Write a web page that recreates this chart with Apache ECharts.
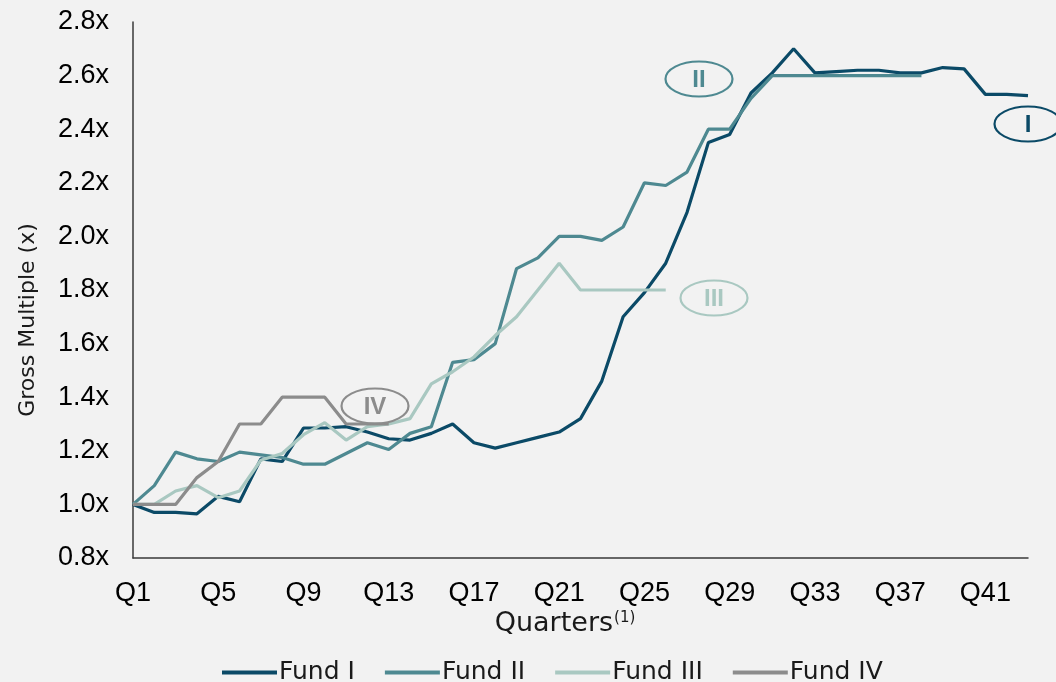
<!DOCTYPE html>
<html>
<head>
<meta charset="utf-8">
<script src="https://cdn.jsdelivr.net/npm/echarts@6/dist/echarts.min.js"></script>
<style>
html,body{margin:0;padding:0;background:#f2f2f2;overflow:hidden;}
#chart{width:1056px;height:682px;}
</style>
</head>
<body>
<div id="chart"></div>
<script>
const quarters = ['Q1','Q2','Q3','Q4','Q5','Q6','Q7','Q8','Q9','Q10','Q11','Q12','Q13','Q14','Q15','Q16','Q17','Q18','Q19','Q20','Q21','Q22','Q23','Q24','Q25','Q26','Q27','Q28','Q29','Q30','Q31','Q32','Q33','Q34','Q35','Q36','Q37','Q38','Q39','Q40','Q41','Q42','Q43'];
const seriesNames = ['Fund I','Fund II','Fund III','Fund IV'];
const fund1 = [1.00,0.97,0.97,0.965,1.03,1.01,1.17,1.16,1.285,1.285,1.29,1.27,1.245,1.24,1.265,1.30,1.23,1.21,1.23,1.25,1.27,1.32,1.46,1.70,1.79,1.90,2.09,2.35,2.38,2.535,2.61,2.70,2.61,2.615,2.62,2.62,2.61,2.61,2.63,2.625,2.53,2.53,2.525];
const fund2 = [1.00,1.07,1.195,1.17,1.16,1.195,1.185,1.175,1.15,1.15,1.19,1.23,1.205,1.265,1.29,1.53,1.54,1.60,1.88,1.92,2.00,2.00,1.985,2.035,2.20,2.19,2.24,2.40,2.40,2.515,2.60,2.60,2.60,2.60,2.60,2.60,2.60,2.60];
const fund3 = [1.00,1.00,1.05,1.07,1.025,1.05,1.165,1.19,1.26,1.305,1.24,1.29,1.30,1.32,1.45,1.495,1.55,1.63,1.70,1.80,1.90,1.80,1.80,1.80,1.80,1.80];
const fund4 = [1.00,1.00,1.00,1.10,1.16,1.30,1.30,1.40,1.40,1.40,1.30,1.30,1.30];
const colors = ['#0b4a67','#4e8991','#a9c8c1','#8c8c8c'];
const badgeText = ['I','II','III','IV'];
const yTitle = 'Gross Multiple (x)';
const xTitle = 'Quarters';
const xTitleNote = '(1)';

const chart = echarts.init(document.getElementById('chart'));
const allData = [fund1, fund2, fund3, fund4];
const titleFont = '"DejaVu Sans", "Noto Sans", sans-serif';
const tickFont = '"Liberation Sans", Arial, sans-serif';

const series = allData.map((d, i) => ({
  name: seriesNames[i],
  type: 'line',
  data: d,
  symbol: 'none',
  showSymbol: false,
  smooth: false,
  lineStyle: { color: colors[i], width: 3.2 },
  itemStyle: { color: colors[i] },
  emphasis: { disabled: true },
  animation: false
}));

// annotation badge positions (pixel)
const badgePos = [[1028,124],[699,79],[714,298],[375,406]];
const graphics = [];
badgePos.forEach((p, i) => {
  graphics.push({
    type: 'ellipse',
    shape: { cx: p[0], cy: p[1], rx: 33.5, ry: 17.5 },
    style: { fill: 'none', stroke: colors[i], lineWidth: 2.2 },
    z: 100
  });
  graphics.push({
    type: 'text',
    x: p[0], y: p[1] + 1,
    style: {
      text: badgeText[i],
      fill: colors[i],
      font: 'bold 24px "Liberation Sans", Arial, sans-serif',
      align: 'center',
      verticalAlign: 'middle'
    },
    z: 101
  });
});
graphics.push({
  type: 'text',
  x: 28, y: 320,
  rotation: Math.PI / 2,
  style: {
    text: yTitle,
    fill: '#1a1a1a',
    font: '22px ' + titleFont,
    align: 'center',
    verticalAlign: 'middle'
  }
});
graphics.push({
  type: 'text',
  x: 565, y: 624,
  style: {
    text: '{a|' + xTitle + '}{b|' + xTitleNote + '}',
    align: 'center',
    verticalAlign: 'middle',
    rich: {
      a: { fontFamily: titleFont, fontSize: 27, fill: '#1a1a1a', color: '#1a1a1a' },
      b: { fontFamily: titleFont, fontSize: 15, fill: '#1a1a1a', color: '#1a1a1a', verticalAlign: 'top', padding: [0,0,12,1] }
    }
  }
});

chart.setOption({
  backgroundColor: '#f2f2f2',
  animation: false,
  grid: { left: 133, right: 28, top: 22, bottom: 124, containLabel: false },
  legend: {
    data: seriesNames,
    top: 660,
    left: 222,
    icon: 'rect',
    itemWidth: 55,
    itemHeight: 4,
    itemGap: 30,
    padding: 0,
    textStyle: { fontFamily: titleFont, fontSize: 25, color: '#1a1a1a', padding: [0,0,0,-3] }
  },
  xAxis: {
    type: 'category',
    data: quarters,
    boundaryGap: false,
    axisLine: { lineStyle: { color: '#3a3a3a', width: 1.5 } },
    axisTick: { show: false },
    axisLabel: { interval: 3, margin: 22, fontFamily: tickFont, fontSize: 27, color: '#000' },
    splitLine: { show: false }
  },
  yAxis: {
    type: 'value',
    min: 0.8,
    max: 2.8,
    interval: 0.2,
    axisLine: { show: true, lineStyle: { color: '#3a3a3a', width: 1.5 } },
    axisTick: { show: false },
    splitLine: { show: false },
    axisLabel: {
      margin: 24,
      fontFamily: tickFont,
      fontSize: 27,
      color: '#000',
      formatter: v => v.toFixed(1) + 'x'
    }
  },
  series: series,
  graphic: { elements: graphics }
});
</script>
</body>
</html>
